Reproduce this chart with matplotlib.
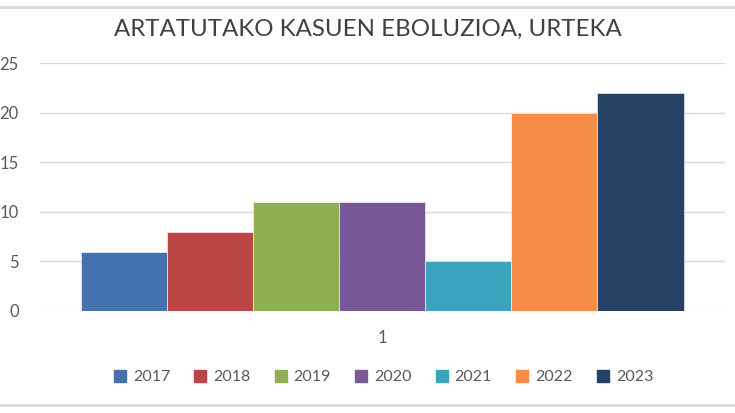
import numpy as np
import matplotlib.pyplot as plt
from matplotlib.lines import Line2D

# Datuak
years = ['2017', '2018', '2019', '2020', '2021', '2022', '2023']
cases = [6, 8, 11, 11, 5, 20, 22]
colors = ['#4472B0', '#BC4545', '#8FB050', '#785897', '#3BA3BE', '#F78C48', '#254265']
y_ticks = [0, 5, 10, 15, 20, 25]

plt.rcParams['font.family'] = ['Lato', 'DejaVu Sans']

fig = plt.figure(figsize=(7.35, 4.13), dpi=100)
ax = fig.add_axes([0.054, 0.247, 0.932, 0.6])

group_width = 0.88
w = group_width / len(years)
for i, (yr, val, c) in enumerate(zip(years, cases, colors)):
    x = 1 + (i - (len(years) - 1) / 2) * w
    ax.bar(x, val, width=w, color=c, edgecolor='white', linewidth=0.4, label=yr, zorder=3)

ax.set_xlim(0.5, 1.5)
ax.set_ylim(0, 25)
ax.set_yticks(y_ticks)
ax.set_xticks([1])
ax.set_xticklabels(['1'])
ax.grid(axis='y', color='#D9D9D9', linewidth=1, zorder=0)
for s in ax.spines.values():
    s.set_visible(False)
ax.tick_params(length=0, labelsize=12, colors='#595959')
ax.tick_params(axis='x', pad=14)
ax.tick_params(axis='y', pad=15)

fig.suptitle('ARTATUTAKO KASUEN EBOLUZIOA, URTEKA', y=0.955, fontsize=17.3, color='#404040')

handles = [Line2D([0], [0], marker='s', linestyle='', markersize=9,
                  markerfacecolor=c, markeredgecolor=c) for c in colors]
fig.legend(handles, years, loc='center', bbox_to_anchor=(0.515, 0.087), ncol=7,
           frameon=False, fontsize=11.5, labelcolor='#595959',
           handletextpad=-0.2, columnspacing=0.9)

# Markoaren lerroak
fig.add_artist(Line2D([0, 1], [0.982, 0.982], color='#D9D9D9', linewidth=2))
fig.add_artist(Line2D([0, 1], [0.02, 0.02], color='#D9D9D9', linewidth=2))

fig.savefig('out.png', dpi=100)
